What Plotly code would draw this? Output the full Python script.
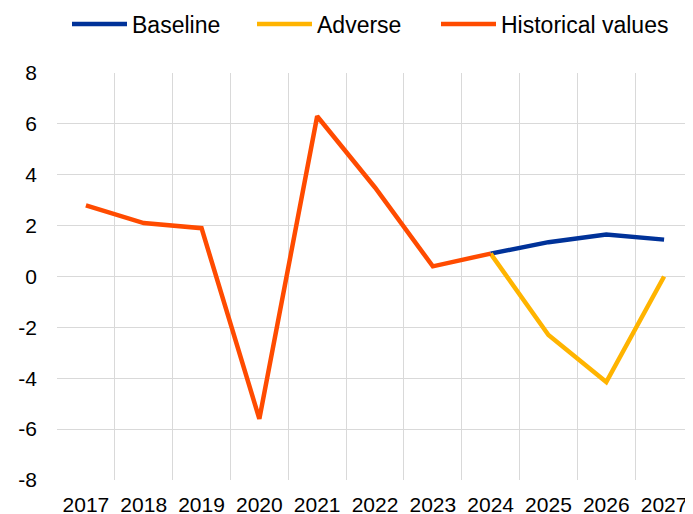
import plotly.graph_objects as go

years = ["2017", "2018", "2019", "2020", "2021", "2022", "2023", "2024", "2025", "2026", "2027"]
hist_years = years[:8]
hist_vals = [2.8, 2.1, 1.9, -5.6, 6.3, 3.5, 0.4, 0.9]
proj_years = years[7:]
baseline_vals = [0.9, 1.35, 1.65, 1.45]
adverse_vals = [0.9, -2.3, -4.15, 0.0]
y_ticks = [-8, -6, -4, -2, 0, 2, 4, 6, 8]
y_ticktext = ["-8", "-6", "-4", "-2", "0", "2", "4", "6", "8"]

FONT = "Liberation Sans, Arial, sans-serif"
W, H = 685, 506

fig = go.Figure()
fig.add_trace(go.Scatter(x=proj_years, y=baseline_vals, mode="lines", name="Baseline",
                         line=dict(color="#003299", width=4.5), legend="legend",
                         showlegend=True))
fig.add_trace(go.Scatter(x=proj_years, y=adverse_vals, mode="lines", name="Adverse",
                         line=dict(color="#FFB400", width=4.5), legend="legend2",
                         showlegend=True))
fig.add_trace(go.Scatter(x=hist_years, y=hist_vals, mode="lines", name="Historical values",
                         line=dict(color="#FF4B00", width=4.5), legend="legend3",
                         showlegend=True))


def leg(xpx):
    return dict(orientation="h", xref="container", yref="container",
                x=xpx / W, y=1 - 16 / H, xanchor="left", yanchor="middle",
                font=dict(size=23), itemwidth=55, bgcolor="rgba(0,0,0,0)")


fig.update_layout(
    width=W, height=H,
    showlegend=True,
    margin=dict(l=49, r=0, t=65, b=34, autoexpand=False),
    paper_bgcolor="white", plot_bgcolor="white",
    font=dict(family=FONT, size=21, color="black"),
    legend=leg(59),
    legend2=leg(244),
    legend3=leg(428),
    xaxis=dict(type="category", categoryorder="array", categoryarray=years,
               tickson="boundaries", showgrid=True, gridcolor="#D9D9D9", gridwidth=1,
               ticks="", showline=False, zeroline=False, range=[-0.5, 10.5],
               tickfont=dict(size=21), automargin=False, ticklabelstandoff=10),
    yaxis=dict(range=[-8, 8], tickvals=y_ticks, ticktext=y_ticktext, showgrid=True,
               gridcolor="#D9D9D9", gridwidth=1, zeroline=False, showline=False, ticks="",
               tickfont=dict(size=21), automargin=False, ticklabelstandoff=19),
)

fig.write_html("out.html")
